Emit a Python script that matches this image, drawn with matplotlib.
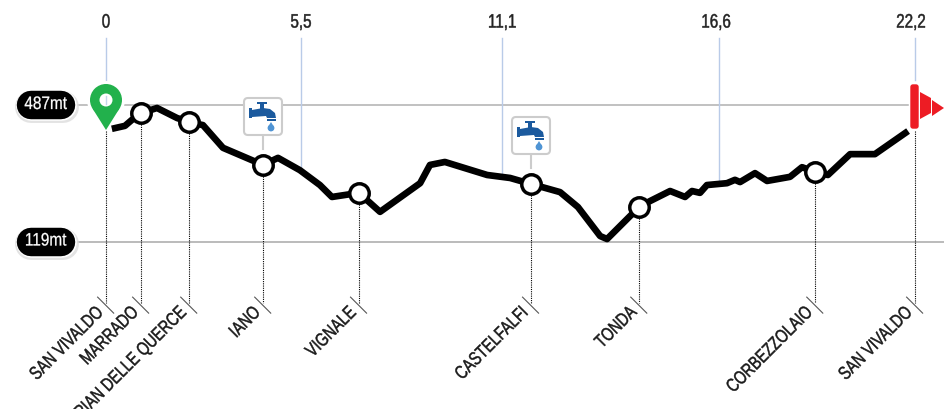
import matplotlib
matplotlib.use("Agg")
import matplotlib.pyplot as plt
from matplotlib.patches import FancyBboxPatch, Polygon, Circle, Rectangle
from matplotlib.patheffects import AbstractPathEffect
from matplotlib.transforms import Affine2D

plt.rcParams['font.family'] = ['Liberation Sans', 'DejaVu Sans']

## Profile of the route
dist_km = [0.16, 0.52, 0.71, 0.96, 1.40, 1.95, 2.28, 2.66, 3.21, 4.31, 4.72, 5.32, 5.87, 6.20, 6.94,
           7.52, 8.62, 8.89, 9.30, 10.46, 11.09, 11.66, 12.46, 12.95, 13.56, 13.75, 14.63, 14.93,
           15.48, 15.89, 16.08, 16.30, 16.49, 17.04, 17.26, 17.40, 17.81, 18.14, 18.77, 19.10,
           19.46, 19.81, 20.42, 21.10, 22.01]
elev_m = [423, 431, 447, 465, 479, 452, 441, 433, 372, 326, 345, 312, 272, 240, 251,
          200, 277, 326, 334, 299, 291, 275, 253, 213, 135, 127, 213, 229,
          256, 240, 256, 251, 272, 277, 286, 280, 304, 283, 294, 320,
          307, 299, 355, 355, 417]

## Places along the route
place_names = ["SAN VIVALDO", "MARRADO", "PIAN DELLE QUERCE", "IANO", "VIGNALE",
               "CASTELFALFI", "TONDA", "CORBEZZOLAIO", "SAN VIVALDO"]
place_km = [0, 0.96, 2.28, 4.31, 6.94, 11.66, 14.63, 19.46, 22.2]
place_elev = [417, 465, 441, 326, 251, 275, 213, 307, 417]

## Top scale
tick_km = [0, 5.35, 10.87, 16.82, 22.2]
tick_label_km = [0, 5.35, 10.87, 16.74, 22.09]
tick_labels = ["0", "5,5", "11,1", "16,6", "22,2"]
tick_low = [554, 312, 293, 275, 554]

## Max and min height
height_m = [487, 119]
height_labels = ["487mt", "119mt"]


# There is no condensed font installed, so squeeze the text when it is drawn
class Narrow(AbstractPathEffect):
    def __init__(self, sx, anchor, stroke=0.35):
        super().__init__()
        self.sx = sx
        self.anchor = anchor
        self.stroke = stroke

    def draw_path(self, renderer, gc, tpath, affine, rgbFace=None):
        box = tpath.get_extents()
        a = box.x1 if self.anchor == "right" else (box.x0 + box.x1) / 2
        squeeze = Affine2D().translate(-a, 0).scale(self.sx, 1).translate(a, 0)
        gc0 = renderer.new_gc()
        gc0.copy_properties(gc)
        gc0.set_linewidth(self.stroke)
        gc0.set_foreground(rgbFace)
        renderer.draw_path(gc0, tpath, squeeze + affine, rgbFace)
        gc0.restore()


fig = plt.figure(figsize=(9.44, 4.09), dpi=100)
ax = fig.add_axes([0, 0, 1, 1])
ax.set_xlim(-2.909, 22.996)
ax.set_ylim(-329.5, 769)
ax.axis("off")

# Second axes in pixels for the icons
ov = fig.add_axes([0, 0, 1, 1], zorder=5)
ov.set_xlim(0, 944)
ov.set_ylim(409, 0)
ov.axis("off")
ov.patch.set_alpha(0)

# Grey height lines
ax.plot([-0.77, 22.0], [height_m[0]] * 2, color="#b0b0b0", lw=1.1, zorder=1)
ax.plot([-0.77, 23], [height_m[1]] * 2, color="#a8a8a8", lw=1.1, zorder=1)

# Blue scale lines and km labels
for k, low in zip(tick_km, tick_low):
    ax.plot([k, k], [low, 667], color="#b9cbe8", lw=1.0, zorder=1)
for k, lab in zip(tick_label_km, tick_labels):
    ax.text(k, 707, lab, ha="center", va="center", fontsize=14, color="#222222",
            path_effects=[Narrow(0.78, "center")])

# Dotted drop lines with the little slash and the name
for k, e, name in zip(place_km, place_elev, place_names):
    ax.plot([k, k], [e, -45], color="black", lw=0.8, ls=(0, (1, 1)), zorder=2)
    ax.plot([k - 0.23, k + 0.21], [-29, -72], color="#555555", lw=0.8, zorder=2)
    ax.annotate(name, (k, -64), xytext=(-3.6, 0), textcoords="offset points", rotation=45,
                rotation_mode="anchor", ha="right", va="center", fontsize=13.5, color="#1a1a1a",
                path_effects=[Narrow(0.77, "right")])

# Profile line and the places on it
ax.plot(dist_km, elev_m, color="black", lw=4.8, solid_joinstyle="round", solid_capstyle="butt", zorder=3)
ax.plot(place_km[1:-1], place_elev[1:-1], "o", ms=14, mfc="white", mec="black", mew=2.5, zorder=4)


def pill(y, text):
    ov.plot([31, 63], [y + 2, y + 2], color="#dddddd", lw=23, solid_capstyle="round", alpha=0.8)
    ov.plot([31, 61], [y, y], color="white", lw=22, solid_capstyle="round")
    ov.plot([31, 61], [y, y], color="black", lw=20.5, solid_capstyle="round")
    ov.text(45.5, y - 0.5, text, color="white", ha="center", va="center", fontsize=13,
            path_effects=[Narrow(0.85, "center", 0.2)])


def tap(x, y):
    # x, y is the top left corner of the box
    blue = "#1b5a9e"
    ov.plot([x + 20, x + 20], [y + 38, y + 52], color="#cccccc", lw=1.5, zorder=2)
    ov.add_patch(FancyBboxPatch((x + 1, y + 1), 38, 37, boxstyle="round,pad=0,rounding_size=4",
                                fc="white", ec="#cccccc", lw=1.5, zorder=3))
    ov.add_patch(Rectangle((x + 6, y + 11), 3, 10, fc=blue, ec="none", zorder=4))
    ov.add_patch(Polygon([(x + 9, y + 13), (x + 20, y + 11), (x + 27, y + 12), (x + 32, y + 16),
                          (x + 33, y + 21), (x + 24, y + 21), (x + 23, y + 19), (x + 9, y + 20)],
                         fc=blue, ec="none", zorder=4))
    ov.add_patch(Rectangle((x + 17, y + 7), 4, 5, fc=blue, ec="none", zorder=4))
    ov.add_patch(Rectangle((x + 14, y + 5), 10, 2, fc=blue, ec="none", zorder=4))
    ov.add_patch(Rectangle((x + 24, y + 22), 9, 2, fc=blue, ec="none", zorder=4))
    ov.add_patch(Circle((x + 28, y + 31), 3.4, fc="#4f94d4", ec="none", zorder=4))
    ov.add_patch(Polygon([(x + 28, y + 25), (x + 25, y + 30), (x + 31, y + 30)],
                         fc="#4f94d4", ec="none", zorder=4))


pill(105, height_labels[0])
pill(241.5, height_labels[1])

tap(243, 97)
tap(511, 116)

# Green start pin
ov.add_patch(Circle((106, 100), 19, fc="white", ec="none", zorder=2))
ov.add_patch(Polygon([(92.5, 108.5), (119.5, 108.5), (106, 130)], fc="#22b14c", ec="none", zorder=3))
ov.add_patch(Circle((106, 100), 16, fc="#22b14c", ec="none", zorder=3))
ov.add_patch(Circle((106, 100), 6.5, fc="white", ec="none", zorder=4))
ov.plot([106, 106], [96, 104], color="#c4d6ea", lw=1, zorder=5)

# Red finish flag
red = "#ed1c24"
ov.add_patch(FancyBboxPatch((911, 85), 7, 43, boxstyle="round,pad=0,rounding_size=2",
                            fc=red, ec=red, lw=1, zorder=3))
ov.add_patch(Polygon([(920, 92), (931, 98), (931, 113), (920, 119)], fc=red, ec="none", zorder=3))
ov.add_patch(Polygon([(932, 100), (944, 108), (932, 116)], fc=red, ec="none", zorder=3))

fig.savefig("out.png", dpi=100)
